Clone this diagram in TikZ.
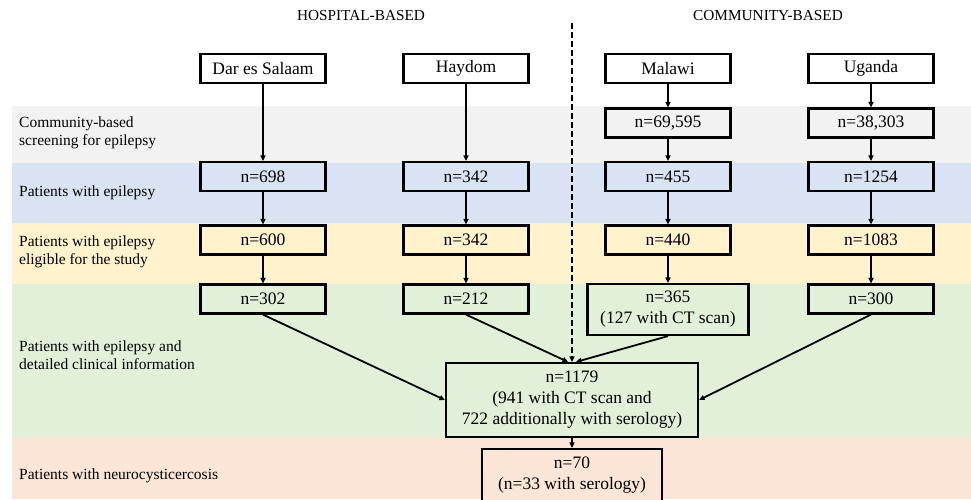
\documentclass[tikz,border=0pt]{standalone}
\usepackage{fontspec}
\setmainfont{Liberation Serif}
\usetikzlibrary{arrows.meta,positioning}
\definecolor{bandgray}{HTML}{F2F2F2}
\definecolor{bandblue}{HTML}{DAE3F3}
\definecolor{bandyellow}{HTML}{FFF2CC}
\definecolor{bandgreen}{HTML}{E2F0D9}
\definecolor{bandsalmon}{HTML}{FBE5D6}
\newcommand{\boxfont}{\fontsize{17.5}{21}\selectfont}
\newcommand{\labfont}{\fontsize{15.5}{18.5}\selectfont}
\newcommand{\headfont}{\fontsize{15.3}{17}\selectfont}

\begin{document}
\begin{tikzpicture}[x=1pt,y=-1pt,
  cnt/.style={draw,line width=2.2pt,minimum width=125pt,minimum height=29pt,inner sep=2pt,font=\boxfont,align=center},
  lab/.style={anchor=west,align=left,inner sep=0pt,font=\labfont},
  head/.style={font=\headfont},
  flow/.style={-{Triangle[length=5.5pt,width=5pt]},line width=1.8pt}]
\useasboundingbox (0,0) rectangle (971,499);
\fill [bandgray] (12,106) rectangle (971,163);
\fill [bandblue] (12,163) rectangle (971,223);
\fill [bandyellow] (12,223) rectangle (971,284);
\fill [bandgreen] (12,284) rectangle (971,437);
\fill [bandsalmon] (12,437) rectangle (971,499);
\node [head] (hosp) at (361,16) {HOSPITAL-BASED};
\node [head] (comm) at (768,16) {COMMUNITY-BASED};
\node [lab] (lscr) at (19,133) {Community-based\\screening for epilepsy};
\node [lab] (lepi) at (19,193) {Patients with epilepsy};
\node [lab] (lelig) at (19,252) {Patients with epilepsy\\eligible for the study};
\node [lab] (lclin) at (19,355) {Patients with epilepsy and\\detailed clinical information};
\node [lab] (lncc) at (19,476) {Patients with neurocysticercosis};
% study sites
\node [cnt,fill=white] (dar) at (263,68.5) {Dar es Salaam};
\node [cnt,fill=white] (hay) at (466,68.5) {Haydom};
\node [cnt,fill=white] (mal) at (668,68.5) {Malawi};
\node [cnt,fill=white] (uga) at (871,68.5) {Uganda};
\node [cnt,fill=bandgray] (malscr) at (668,123) {n=69,595};
\node [cnt,fill=bandgray] (ugascr) at (871,123) {n=38,303};
\node [cnt,fill=bandblue] (darepi) at (263,176.5) {n=698};
\node [cnt,fill=bandblue] (hayepi) at (466,176.5) {n=342};
\node [cnt,fill=bandblue] (malepi) at (668,176.5) {n=455};
\node [cnt,fill=bandblue] (ugaepi) at (871,176.5) {n=1254};
\node [cnt,fill=bandyellow] (darelig) at (263,240) {n=600};
\node [cnt,fill=bandyellow] (hayelig) at (466,240) {n=342};
\node [cnt,fill=bandyellow] (malelig) at (668,240) {n=440};
\node [cnt,fill=bandyellow] (ugaelig) at (871,240) {n=1083};
\node [cnt,fill=bandgreen] (darclin) at (263,299) {n=302};
\node [cnt,fill=bandgreen] (hayclin) at (466,299) {n=212};
\node [cnt,fill=bandgreen,minimum width=161pt,minimum height=51pt] (malclin) at (668,309.5) {n=365\\(127 with CT scan)};
\node [cnt,fill=bandgreen] (ugaclin) at (871,299) {n=300};
\node [cnt,fill=bandgreen,minimum width=252pt,minimum height=74pt] (all) at (572,400) {n=1179\\(941 with CT scan and\\722 additionally with serology)};
\node [cnt,fill=bandsalmon,minimum width=180pt,minimum height=53pt] (ncc) at (572,475.5) {n=70\\(n=33 with serology)};
% connectors
\foreach \a/\b in {dar/darepi,darepi/darelig,darelig/darclin,hay/hayepi,hayepi/hayelig,hayelig/hayclin,mal/malscr,malscr/malepi,malepi/malelig,malelig/malclin,uga/ugascr,ugascr/ugaepi,ugaepi/ugaelig,ugaelig/ugaclin,all/ncc}
  \draw [flow] (\a) -- (\b);
\draw [flow] (darclin.south) -- (all.west);
\draw [flow] (hayclin.south) -- ([xshift=-4pt]all.north);
\draw [flow] (malclin.south) -- ([xshift=4pt]all.north);
\draw [flow] (ugaclin.south) -- (all.east);
\coordinate (divtop) at (572,23);
\draw [flow,dash pattern=on 6pt off 3pt] (divtop) -- (all.north);
\end{tikzpicture}
\end{document}
